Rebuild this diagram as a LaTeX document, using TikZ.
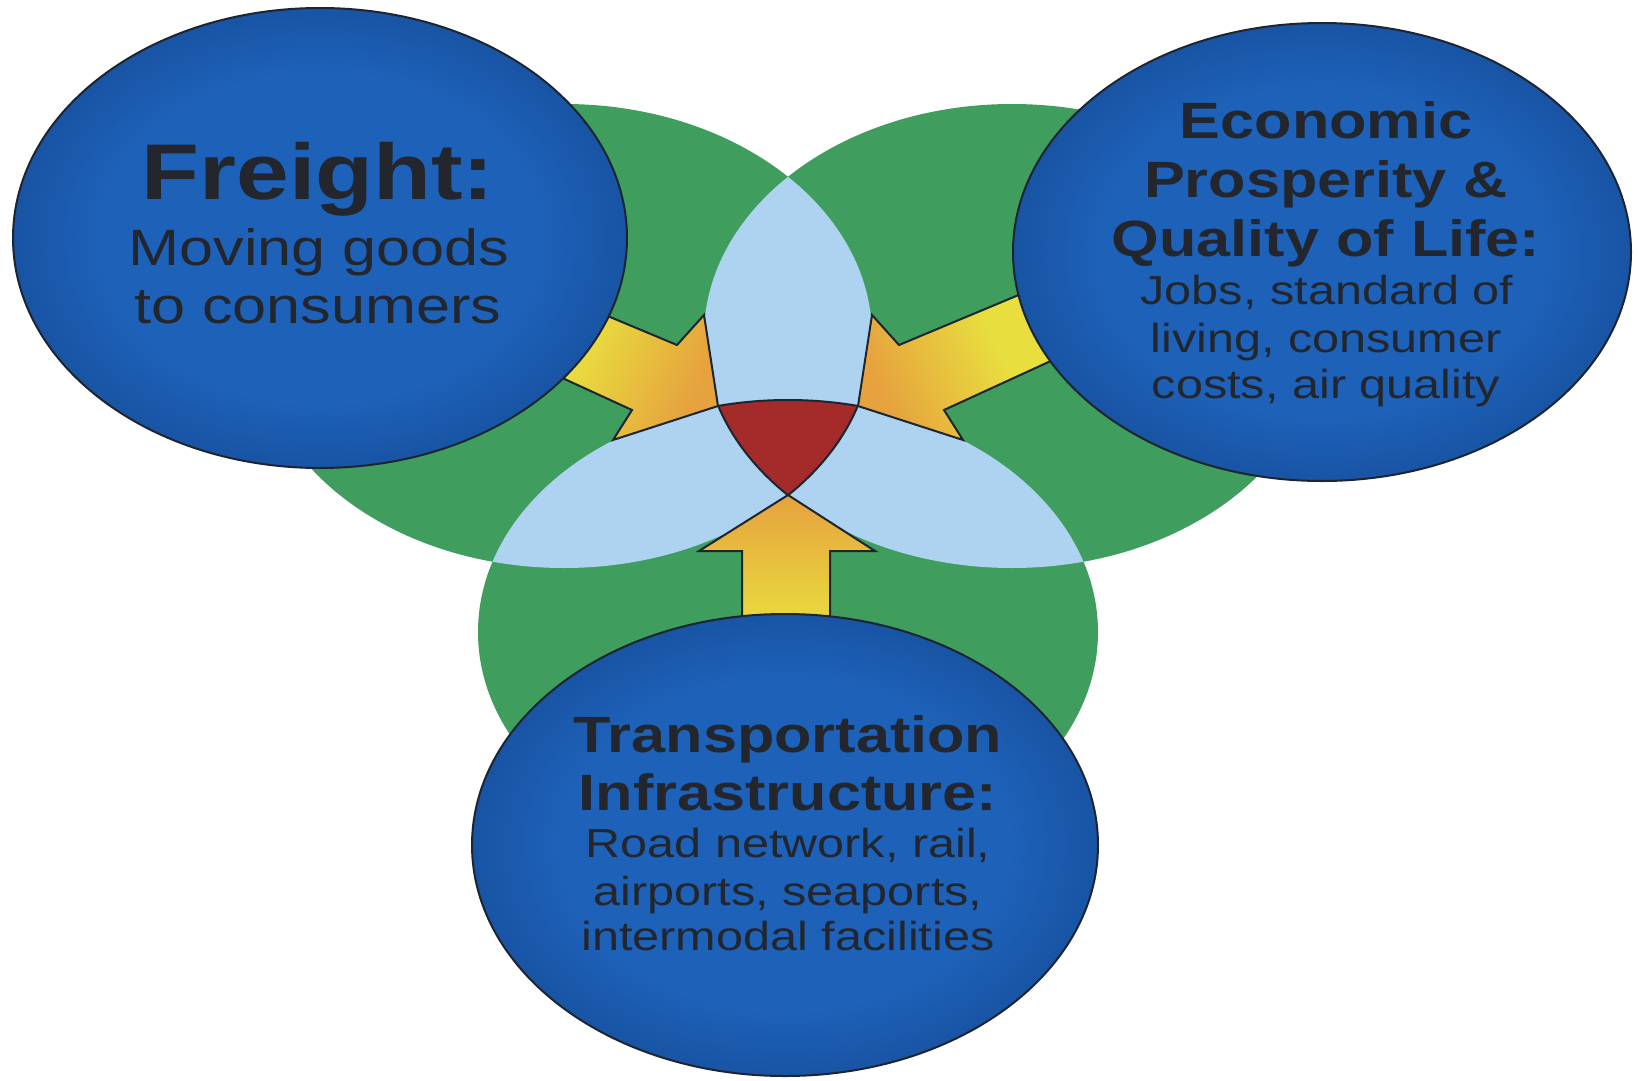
\documentclass[tikz,border=0pt]{standalone}
\usepackage{fontspec}
\newfontfamily\sfx[FakeStretch=1.2]{Liberation Sans}
\usetikzlibrary{shapes.geometric}
\definecolor{gr}{HTML}{3F9D5E}
\definecolor{lb}{HTML}{ADD3F0}
\definecolor{rd}{HTML}{A52B2B}
\definecolor{bI}{HTML}{1D61B8}
\definecolor{bO}{HTML}{1954A4}
\definecolor{ink}{HTML}{23272D}
\definecolor{edge}{HTML}{1C2530}
\definecolor{ay}{HTML}{E8DE3E}
\definecolor{ao}{HTML}{E6A23E}
\pgfdeclareradialshading{blueball}{\pgfpoint{0bp}{0bp}}{color(0bp)=(bI); color(18bp)=(bI); color(25bp)=(bO); color(50bp)=(bO)}
\tikzset{
  Lsh/.style={insert path={(564,336) ellipse [x radius=308, y radius=232]}},
  Rsh/.style={insert path={(1012,336) ellipse [x radius=308, y radius=232]}},
  Bsh/.style={insert path={(788,632) ellipse [x radius=310, y radius=232]}},
  blob/.style={ellipse, draw=edge, line width=2pt, shading=blueball, inner sep=0pt},
  big/.style={font=\sfx\bfseries\fontsize{79}{90}\selectfont, text=ink, anchor=base, inner sep=0pt},
  hd/.style={font=\sfx\bfseries\fontsize{51}{60}\selectfont, text=ink, anchor=base, inner sep=0pt},
  bodyF/.style={font=\sfx\fontsize{51}{60}\selectfont, text=ink, anchor=base, inner sep=0pt},
  body/.style={font=\sfx\fontsize{40.5}{48}\selectfont, text=ink, anchor=base, inner sep=0pt},
  blockarrow/.style={draw=edge, line width=2pt, line join=miter},
  redline/.style={draw=edge, line width=2pt},
}
\begin{document}
\begin{tikzpicture}[x=1pt,y=-1pt]
\useasboundingbox (0,0) rectangle (1638,1081);
\fill[white] (0,0) rectangle (1638,1081);
% green sets
\fill[gr, Lsh];
\fill[gr, Rsh];
\fill[gr, Bsh];
% pairwise overlaps
\begin{scope}
  \clip[Lsh];
  \fill[lb, Rsh];
  \fill[lb, Bsh];
\end{scope}
\begin{scope}
  \clip[Rsh];
  \fill[lb, Bsh];
\end{scope}
% triple overlap
\begin{scope}
  \clip[Lsh]; \clip[Rsh];
  \fill[rd, Bsh];
\end{scope}
\begin{scope}
  \clip[Lsh]; \clip[Rsh];
  \draw[redline, Bsh];
\end{scope}
\begin{scope}
  \clip[Lsh]; \clip[Bsh];
  \draw[redline, Rsh];
\end{scope}
\begin{scope}
  \clip[Rsh]; \clip[Bsh];
  \draw[redline, Lsh];
\end{scope}
% block arrows
\draw[blockarrow, top color=ay, bottom color=ao, middle color=ay, shading angle=66.5]
  (476,261) -- (677,345) -- (704,315) -- (718,406) -- (613,440) -- (632,410) -- (436,320) -- cycle;
\draw[blockarrow, top color=ay, bottom color=ao, middle color=ay, shading angle=-66.5]
  (1100,261) -- (899,345) -- (872,315) -- (858,406) -- (963,440) -- (944,410) -- (1140,320) -- cycle;
\draw[blockarrow, top color=ao, bottom color=ay]
  (742,630) -- (742,551) -- (699,551) -- (788,495) -- (875,551) -- (830,551) -- (830,630) -- cycle;
% blue ellipses
\node[blob, minimum width=614pt, minimum height=460pt] (freight) at (320,238) {};
\node[blob, minimum width=618pt, minimum height=458pt] (econ) at (1322,252) {};
\node[blob, minimum width=626pt, minimum height=462pt] (trans) at (785,845) {};
% texts
\node[big] (fr1) at (318,199) {Freight:};
\node[bodyF] (fr2) at (319,265) {Moving goods};
\node[bodyF] (fr3) at (318,323) {to consumers};
\node[hd] (ec1) at (1326,138) {Economic};
\node[hd] (ec2) at (1326,197) {Prosperity \&};
\node[hd] (ec3) at (1326,256) {Quality of Life:};
\node[body] (ec4) at (1327,304) {Jobs, standard of};
\node[body] (ec5) at (1326,352) {living, consumer};
\node[body] (ec6) at (1326,398) {costs, air quality};
\node[hd] (tr1) at (788,752) {Transportation};
\node[hd] (tr2) at (788,810) {Infrastructure:};
\node[body] (tr3) at (788,857) {Road network, rail,};
\node[body] (tr4) at (788,905) {airports, seaports,};
\node[body] (tr5) at (788,950) {intermodal facilities};
\end{tikzpicture}
\end{document}
